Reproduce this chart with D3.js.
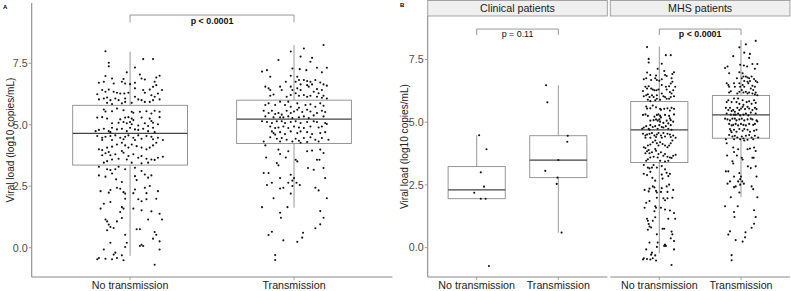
<!DOCTYPE html>
<html>
<head>
<meta charset="utf-8">
<script src="https://cdn.jsdelivr.net/npm/d3@7"></script>
<style>
  body { margin: 0; background: #fff; }
  svg { display: block; font-family: "Liberation Sans", Arial, sans-serif; }
</style>
</head>
<body>
<script>
// categories and ticks
var groups = ["No transmission", "Transmission"];
var facets = ["Clinical patients", "MHS patients"];
var yTicks = [0, 2.5, 5, 7.5];

// box statistics: [lower whisker, q1, median, q3, upper whisker]
var boxAll = [[-0.33, 3.36, 4.65, 5.79, 7.97], [1.63, 4.24, 5.23, 6.00, 8.24]];
var boxClin = [[1.95, 1.95, 2.30, 3.23, 4.48], [0.60, 2.79, 3.49, 4.46, 6.47]];
var boxMhs = [[-0.22, 3.39, 4.69, 5.82, 8.01], [2.01, 4.36, 5.29, 6.06, 8.27]];

// p-value labels and the height (log10) of each bracket
var pLabels = ["p < 0.0001", "p = 0.11", "p < 0.0001"];
var pBold = [true, false, true];
var pHeights = [9.46, 8.71, 8.71];

// jittered points: [jitter offset in category units, log10 viral load]
var ntPoints = [
  [-0.15,7.99],[-0.13,7.52],[-0.13,7.38],[0.08,7.67],[0.14,7.67],[0.03,7.33],[-0.15,6.98],[-0.19,6.71],
  [-0.16,6.75],[-0.11,6.88],[-0.02,7.13],[0.06,7.04],[0.07,6.88],[0.09,6.84],[0.18,6.99],[0.16,6.92],
  [0.15,6.75],[-0.04,6.86],[-0.05,6.75],[-0.03,6.68],[0.0,6.65],[0.03,6.71],[0.03,6.48],[-0.10,6.68],
  [-0.13,6.43],[-0.15,6.34],[-0.17,6.41],[-0.20,6.24],[-0.10,6.34],[-0.08,6.30],[-0.06,6.27],[-0.035,6.27],
  [-0.01,6.30],[0.08,6.41],[0.09,6.30],[0.12,6.43],[0.14,6.54],[0.16,6.61],[0.195,6.41],[0.13,6.20],
  [0.17,6.27],[-0.19,6.03],[-0.16,6.07],[-0.14,6.11],[-0.12,6.00],[-0.09,6.07],[-0.07,6.00],[-0.03,6.07],
  [-0.03,5.93],[0.03,6.14],[0.05,6.03],[0.07,6.00],[0.09,5.93],[0.12,5.93],[0.14,6.00],[0.15,6.14],
  [0.18,6.03],[-0.14,5.89],[-0.11,5.84],[-0.05,5.87],[0.01,5.89],[-0.16,5.62],[-0.15,5.54],[-0.11,5.55],
  [-0.08,5.66],[-0.04,5.59],[0.01,5.53],[0.02,5.49],[0.06,5.53],[0.10,5.55],[0.13,5.46],[0.15,5.57],
  [0.18,5.53],
  [-0.20,5.29],[-0.17,5.31],[-0.14,5.25],[-0.06,5.22],[-0.03,5.29],[-0.01,5.31],[0.01,5.25],[0.02,5.19],
  [0.07,5.29],[0.12,5.25],[0.13,5.15],[0.18,5.31],[-0.11,5.06],[-0.07,5.08],[-0.04,5.11],[-0.02,5.06],
  [0.00,5.11],[0.01,5.02],[0.05,4.97],[0.09,5.06],[0.11,4.95],[0.14,5.08],[0.17,5.02],[-0.19,4.79],
  [-0.16,4.84],[-0.13,4.74],[-0.11,4.88],[-0.08,4.81],[-0.05,4.84],[-0.02,4.74],[0.00,4.88],[0.03,4.81],
  [0.05,4.79],[0.08,4.84],[0.11,4.74],[0.14,4.88],[0.15,4.70],[-0.12,4.70],[-0.21,4.74],[-0.20,4.54],
  [-0.17,4.47],[-0.15,4.51],[-0.12,4.54],[-0.09,4.57],[-0.06,4.47],[-0.03,4.51],[-0.01,4.57],[0.02,4.47],
  [0.05,4.57],[0.07,4.43],[0.10,4.54],[0.13,4.51],[0.17,4.47],[-0.17,4.38],[-0.11,4.38],[-0.04,4.41],
  [0.03,4.38],[0.14,4.41],[0.20,4.38],[-0.19,4.00],[-0.17,3.97],[-0.14,4.07],[-0.11,4.11],[-0.08,4.20],
  [-0.05,4.27],[-0.03,4.16],[-0.01,4.07],[0.01,4.20],[0.04,4.13],[0.07,4.07],[0.10,4.00],[0.12,4.07],
  [0.14,4.16],[0.16,4.27],[-0.13,3.89],[-0.05,3.93],[-0.17,3.76],[-0.15,3.84],[-0.12,3.76],[-0.09,3.80],
  [-0.04,3.86],[-0.01,3.73],[0.02,3.80],[0.05,3.66],[0.07,3.73],[0.10,3.62],[0.13,3.59],[0.15,3.57],
  [0.17,3.66],[0.20,3.70],[-0.11,3.59],[-0.07,3.62],[-0.02,3.59],[-0.14,3.52],[0.01,3.46],[0.11,3.46],
  [-0.16,3.46],[0.07,3.43],
  [-0.19,3.29],[-0.14,3.19],[-0.12,3.16],[-0.09,3.19],[-0.07,3.29],[-0.03,3.19],[0.03,3.25],[0.07,3.12],
  [0.09,2.98],[-0.19,2.94],[-0.15,2.89],[-0.11,3.02],[-0.085,2.78],[-0.05,2.67],[0.03,2.91],[0.04,2.75],
  [0.11,2.85],[0.13,2.94],[-0.18,2.30],[-0.12,2.35],[-0.08,2.44],[-0.06,2.40],[-0.04,2.26],[0.03,2.37],
  [0.09,2.44],[0.12,2.51],[0.17,2.30],
  [-0.13,2.24],[-0.03,2.20],[0.02,2.22],[0.10,2.22],[-0.03,1.99],[0.05,1.97],[0.07,1.89],[0.10,1.97],
  [0.16,1.99],[-0.12,1.86],[-0.16,1.79],[-0.18,1.59],[-0.05,1.65],[-0.04,1.59],[-0.06,1.45],[0.02,1.59],
  [0.07,1.52],[0.13,1.48],[0.18,1.38],[-0.15,1.15],[-0.14,1.07],[-0.08,1.07],[-0.05,1.21],[0.11,1.15],
  [0.195,1.15],[-0.13,0.94],[-0.12,0.84],[-0.10,0.80],[-0.14,0.71],[0.04,0.75],[0.06,0.75],[0.15,0.64],
  [0.16,0.53],[-0.03,0.53],[0.14,0.37],[0.18,0.26],[-0.12,0.20],[-0.02,0.20],[-0.03,0.03],[0.07,0.12],
  [0.08,0.07],[0.06,0.07],[-0.16,-0.07],[-0.09,-0.20],[-0.10,-0.28],[-0.05,-0.31],[0.18,-0.07],[-0.19,-0.42],
  [-0.20,-0.47],[-0.15,-0.45],[-0.11,-0.47],[-0.08,-0.42],[-0.04,-0.51],[0.15,-0.69]
];

var tPoints = [
  [0.18,8.24],[0.06,8.10],[-0.02,7.98],[0.04,7.77],[-0.095,7.63],[0.11,7.72],[0.10,7.56],[0.14,7.32],
  [0.20,7.32],[-0.195,7.16],[-0.165,7.22],[-0.01,7.29],[0.035,7.26],[0.075,7.22],[0.17,7.13],[-0.145,6.95],
  [-0.02,6.99],[0.02,6.95],[0.03,6.82],[0.01,6.75],[-0.05,6.75],[0.06,6.82],[0.08,6.78],[0.10,6.75],
  [0.13,6.82],[0.16,6.72],[0.04,6.64],[0.08,6.61],[0.09,6.55],[0.11,6.64],[0.18,6.64],[0.20,6.59],
  [-0.175,6.55],[-0.155,6.48],[-0.145,6.41],[-0.085,6.55],[-0.075,6.41],[-0.02,6.55],[-0.01,6.41],[0.02,6.48],
  [0.04,6.41],[0.12,6.34],[0.14,6.45],[0.15,6.28],[0.17,6.41],[-0.145,6.18],[-0.125,6.23],[-0.045,6.14],
  [-0.02,6.21],[0.01,6.28],[0.03,6.18],[0.06,6.21],[0.08,6.14],[0.10,6.18],[0.14,6.14],[0.17,6.10],
  [0.18,6.18],[0.20,6.07],[-0.175,5.80],[-0.155,5.87],[-0.115,5.80],[-0.085,5.94],[-0.055,5.80],[-0.035,5.94],
  [-0.02,5.73],[0.02,5.87],[0.03,5.69],[0.07,5.80],[0.10,5.83],[0.13,5.73],[0.16,5.87],[0.18,5.77],
  [-0.185,5.57],[-0.155,5.48],[-0.135,5.57],[-0.115,5.44],[-0.095,5.48],[-0.075,5.41],[-0.045,5.57],[-0.02,5.48],
  [0.00,5.54],[0.02,5.61],[0.05,5.52],[0.08,5.61],[0.10,5.54],[0.14,5.48],[0.17,5.57],[0.19,5.52],
  [-0.175,5.34],[-0.125,5.30],[-0.085,5.30],[-0.065,5.30],[-0.035,5.34],[-0.01,5.27],[0.03,5.30],[0.06,5.34],
  [0.09,5.27],[0.12,5.38],[0.18,5.34],[-0.195,5.14],[-0.165,5.11],[-0.135,5.07],[-0.105,5.14],[-0.075,5.14],
  [-0.055,5.07],[-0.02,5.11],[0.01,5.14],[0.04,5.07],[0.08,5.11],[0.12,5.14],[0.14,5.11],[0.19,5.07],
  [0.20,5.03],[-0.145,4.93],[-0.115,4.87],[-0.095,4.89],[-0.065,4.93],[-0.035,4.87],[0.00,4.93],[0.03,4.89],
  [0.06,4.87],[0.10,4.93],[0.15,4.89],[0.17,4.93],[-0.135,4.73],[-0.125,4.66],[-0.115,4.60],[-0.085,4.70],
  [-0.055,4.62],[-0.02,4.73],[0.02,4.66],[0.04,4.73],[0.08,4.70],[0.11,4.62],[0.16,4.66],[0.19,4.70],
  [-0.145,4.49],[-0.105,4.43],[-0.075,4.46],[-0.045,4.39],[0.01,4.43],[0.03,4.35],[0.06,4.46],[0.10,4.49],
  [0.13,4.39],[0.17,4.46],[0.21,4.39],[-0.185,4.32],[-0.085,4.32],[-0.01,4.32],[0.04,4.27],[0.08,4.30],
  [0.15,4.32],[-0.175,4.16],[-0.095,3.99],[-0.085,3.81],[-0.035,3.92],[0.08,3.92],[0.11,3.95],[0.16,3.99],
  [0.18,3.85],[-0.17,3.67],[-0.05,3.67],[-0.105,3.44],[-0.095,3.35],[0.01,3.58],[0.02,3.51],[0.14,3.58],
  [0.155,3.58],[0.085,3.24],[0.12,3.17],[0.18,3.24],[-0.185,3.04],[-0.155,3.04],[-0.02,2.97],[-0.085,2.83],
  [0.00,2.83],[-0.01,2.73],[0.19,2.83],
  [-0.165,2.55],[-0.135,2.64],[-0.085,2.41],[-0.065,2.44],[-0.035,2.64],[-0.01,2.51],[0.015,2.64],[0.035,2.55],
  [0.13,2.44],[0.15,2.33],[-0.02,2.20],[-0.125,2.01],[0.20,2.01],[-0.195,1.65],[-0.04,1.65],[-0.085,1.42],
  [-0.08,1.22],[0.16,1.49],[0.18,1.22],[0.16,0.95],[0.13,0.79],[-0.135,0.65],[-0.155,0.52],[0.055,0.61],
  [0.05,0.41],[-0.065,0.30],[0.02,0.24],[-0.115,-0.30],[-0.115,-0.50]
];

var clinNTPoints = [[0.03,4.48],[0.12,3.92],[0.05,3.00],[0.09,2.43],[-0.03,2.19],[0.05,1.95],[0.11,1.95],[0.15,-0.73]];
var clinTPoints = [[-0.15,6.47],[-0.135,5.79],[0.115,4.46],[0.11,4.22],[0.0,3.49],[-0.16,3.06],[-0.01,2.79],[-0.02,2.54],[0.04,0.60]];

var width = 791;
var height = 291;
var font = "Liberation Sans, Arial, sans-serif";

var svg = d3.select("body")
    .append("svg")
    .attr("width", width)
    .attr("height", height);

// one facet panel: x scale + boxes + points + bracket
function panel(g, x0, x1, y, boxes, pointSets, p) {
    var x = d3.scalePoint().domain(groups).range([x0, x1]).padding(0.6);
    var step = x.step();
    var bw = 0.7 * step;

    // x axis
    g.append("line")
        .attr("x1", x0).attr("x2", x1)
        .attr("y1", y.range()[0]).attr("y2", y.range()[0])
        .attr("stroke", "#8a8a8a").attr("stroke-width", 1.1);
    groups.forEach(function(c) {
        g.append("line")
            .attr("x1", x(c)).attr("x2", x(c))
            .attr("y1", y.range()[0]).attr("y2", y.range()[0] + 3)
            .attr("stroke", "#8a8a8a").attr("stroke-width", 0.8);
        g.append("text")
            .attr("x", x(c)).attr("y", 289)
            .attr("text-anchor", "middle")
            .attr("font-size", "10.7px")
            .attr("fill", "#222")
            .text(c);
    });

    // boxes
    boxes.forEach(function(b, i) {
        var cx = x(groups[i]);
        g.append("line")
            .attr("x1", cx).attr("x2", cx)
            .attr("y1", y(b[4])).attr("y2", y(b[3]))
            .attr("stroke", "#8c8c8c").attr("stroke-width", 0.9);
        g.append("line")
            .attr("x1", cx).attr("x2", cx)
            .attr("y1", y(b[1])).attr("y2", y(b[0]))
            .attr("stroke", "#8c8c8c").attr("stroke-width", 0.9);
        g.append("rect")
            .attr("x", cx - bw / 2).attr("width", bw)
            .attr("y", y(b[3])).attr("height", y(b[1]) - y(b[3]))
            .attr("fill", "none").attr("stroke", "#8c8c8c").attr("stroke-width", 0.9);
        g.append("line")
            .attr("x1", cx - bw / 2).attr("x2", cx + bw / 2)
            .attr("y1", y(b[2])).attr("y2", y(b[2]))
            .attr("stroke", "#444").attr("stroke-width", 1.2);
    });

    // jittered points
    pointSets.forEach(function(pts, i) {
        g.selectAll(null)
            .data(pts)
            .enter()
            .append("circle")
            .attr("cx", function(d) { return x(groups[i]) + d[0] * step; })
            .attr("cy", function(d) { return y(d[1]); })
            .attr("r", 1.05)
            .attr("fill", "#111");
    });

    // significance bracket
    var by = y(p.h);
    var tip = y(p.h) + (p.tip);
    g.append("path")
        .attr("d", "M" + x(groups[0]) + "," + tip + "V" + by + "H" + x(groups[1]) + "V" + tip)
        .attr("fill", "none").attr("stroke", "#8c8c8c").attr("stroke-width", 0.9);
    g.append("text")
        .attr("x", (x(groups[0]) + x(groups[1])) / 2)
        .attr("y", by + p.dy)
        .attr("text-anchor", "middle")
        .attr("font-size", "8.9px")
        .attr("font-weight", p.bold ? "bold" : "normal")
        .attr("fill", "#111")
        .text(p.label);
}

function yAxis(g, y, xPos, titleX) {
    g.append("line")
        .attr("x1", xPos).attr("x2", xPos)
        .attr("y1", y.range()[1]).attr("y2", y.range()[0])
        .attr("stroke", "#8a8a8a").attr("stroke-width", 1.1);
    yTicks.forEach(function(t) {
        g.append("line")
            .attr("x1", xPos - 3).attr("x2", xPos)
            .attr("y1", y(t)).attr("y2", y(t))
            .attr("stroke", "#8a8a8a").attr("stroke-width", 0.8);
        g.append("text")
            .attr("x", xPos - 4).attr("y", y(t))
            .attr("dy", "0.36em")
            .attr("text-anchor", "end")
            .attr("font-size", "10.7px")
            .attr("fill", "#4d4d4d")
            .text(d3.format(".1f")(t));
    });
    var mid = (y.range()[0] + y.range()[1]) / 2;
    g.append("text")
        .attr("transform", "translate(" + titleX + "," + mid + ") rotate(-90)")
        .attr("text-anchor", "middle")
        .attr("font-size", "10.1px")
        .attr("fill", "#222")
        .text("Viral load (log10 copies/mL)");
}

// ---- panel A ----
var gA = svg.append("g");
var yA = d3.scaleLinear().domain([-1.19, 9.95]).range([277, 3]);
yAxis(gA, yA, 31.7, 14);
panel(gA, 31.7, 392.4, yA, boxAll, [ntPoints, tPoints],
      {h: pHeights[0], tip: 7.3, dy: 8.7, label: pLabels[0], bold: pBold[0]});
gA.append("text").attr("x", 3).attr("y", 8.5)
    .attr("font-size", "6px").attr("font-weight", "bold").text("A");

// ---- panel B ----
var gB = svg.append("g");
var yB = d3.scaleLinear().domain([-1.17, 9.23]).range([277, 16]);
yAxis(gB, yB, 427.7, 407.5);
var facetX = [[427.7, 607.3], [610.3, 790]];
panel(gB, facetX[0][0], facetX[0][1], yB, boxClin, [clinNTPoints, clinTPoints],
      {h: pHeights[1], tip: 6, dy: 7.5, label: pLabels[1], bold: pBold[1]});
panel(gB, facetX[1][0], facetX[1][1], yB, boxMhs, [ntPoints, tPoints],
      {h: pHeights[2], tip: 6, dy: 7.5, label: pLabels[2], bold: pBold[2]});

// facet strips
facets.forEach(function(f, i) {
    gB.append("rect")
        .attr("x", facetX[i][0]).attr("y", 0.5)
        .attr("width", facetX[i][1] - facetX[i][0]).attr("height", 15.5)
        .attr("fill", "#efefef").attr("stroke", "#9a9a9a").attr("stroke-width", 0.9);
    gB.append("text")
        .attr("x", (facetX[i][0] + facetX[i][1]) / 2).attr("y", 12.2)
        .attr("text-anchor", "middle")
        .attr("font-size", "10.7px")
        .attr("fill", "#1a1a1a")
        .text(f);
});
gB.append("text").attr("x", 400).attr("y", 7)
    .attr("font-size", "6px").attr("font-weight", "bold").text("B");
</script>
</body>
</html>
